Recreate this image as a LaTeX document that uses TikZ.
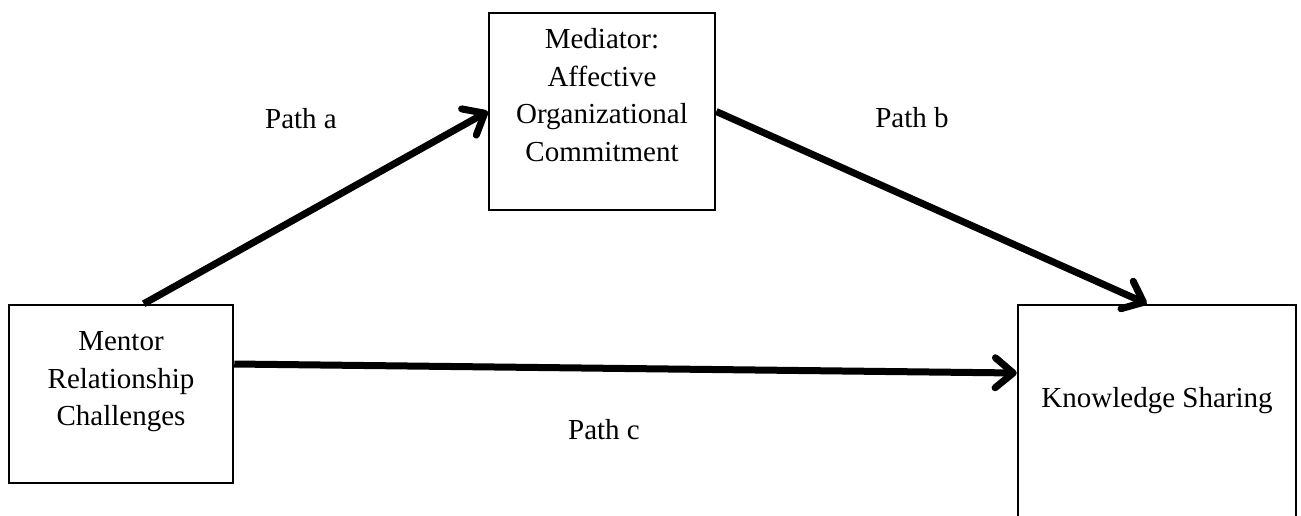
\documentclass[tikz,border=0pt]{standalone}
\usepackage{fontspec}
\setmainfont{Liberation Serif}
\usetikzlibrary{arrows.meta}
\begin{document}
\begin{tikzpicture}[x=1pt,y=-1pt,
  txt/.style={font=\fontsize{29}{37.5}\selectfont, inner sep=0pt, align=center},
  boxnode/.style={draw, line width=2.5pt, inner sep=0pt},
  conn/.style={line width=7pt, -{Straight Barb[length=18pt,width=30pt,round]}}]
\useasboundingbox (0,0) rectangle (1301,515);
\clip (0,0) rectangle (1301,515);
\fill[white] (0,0) rectangle (1301,515);
\node[boxnode, minimum width=224pt, minimum height=178pt] (mentor) at (121,394) {};
\node[boxnode, minimum width=226pt, minimum height=197pt] (mediator) at (602,111.5) {};
\node[boxnode, minimum width=278pt, minimum height=240pt] (know) at (1157,425) {};
\node[txt] (mentortxt) at (121,382) {Mentor\\Relationship\\Challenges};
\node[txt] (medtxt) at (602,95) {Mediator:\\Affective\\Organizational\\Commitment};
\node[txt, anchor=base] (knowtxt) at (1157,407) {Knowledge Sharing};
\node[txt, anchor=base] (pa) at (301,128) {Path a};
\node[txt, anchor=base] (pb) at (912,127) {Path b};
\node[txt, anchor=base] (pc) at (604,439) {Path c};
\draw[conn] ([xshift=136pt]mentor.north west) -- (mediator.west);
\draw[conn] (mediator.east) -- ([xshift=130pt]know.north west);
\draw[conn] ([yshift=30pt]mentor.east) -- ([yshift=52pt]know.west);
\end{tikzpicture}
\end{document}
